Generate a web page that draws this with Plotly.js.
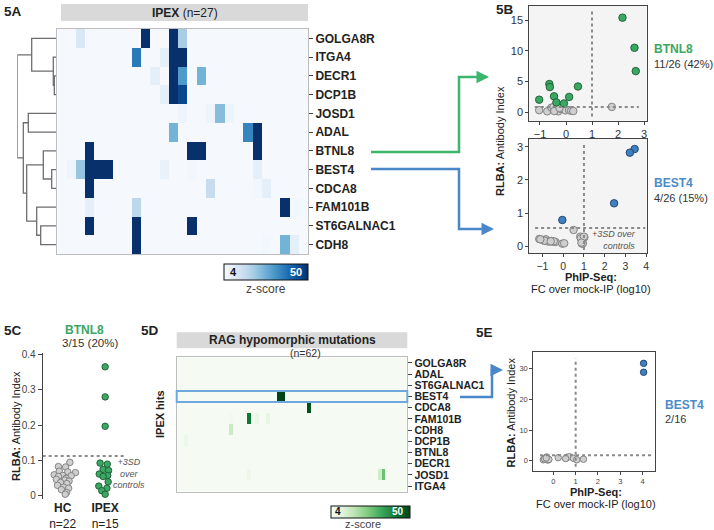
<!DOCTYPE html>
<html><head><meta charset="utf-8">
<script src="https://cdn.plot.ly/plotly-3.0.1.min.js"></script>
<style>html,body{margin:0;padding:0;background:#fff}#chart{width:714px;height:530px}</style>
</head><body><div id="chart"></div>
<script>
const W = 714, H = 530;
const px = x => x / W;
const py = y => 1 - y / H;

// ---------- 5A : IPEX heatmap ----------
const ipexGenes = ['GOLGA8R','ITGA4','DECR1','DCP1B','JOSD1','ADAL','BTNL8','BEST4','CDCA8','FAM101B','ST6GALNAC1','CDH8'];
const ipexSamples = 27;
// [gene row, sample column, z-score]
const ipexHits = [
  [0,2,11],[0,9,50],[0,12,50],[0,13,20],
  [1,8,37],[1,11,8],[1,12,50],[1,13,50],
  [2,10,8],[2,12,50],[2,13,31],[2,15,26],
  [3,11,8],[3,12,50],[3,13,46],
  [4,13,6],[4,16,6],[4,17,24],[4,18,6],
  [5,12,26],[5,20,35],[5,21,50],
  [6,3,50],[6,14,50],[6,15,50],[6,21,50],
  [7,1,6],[7,2,22],[7,3,50],[7,4,50],[7,5,50],[7,11,7],[7,14,5],[7,21,8],
  [8,3,50],[8,16,15],[8,21,5],[8,22,8],
  [9,3,8],[9,8,17],[9,24,50],[9,25,5],[9,26,4.5],
  [10,3,50],[10,8,50],[10,14,50],
  [11,8,50],[11,22,5],[11,24,26],[11,25,8]
];
// dendrogram merges: [child A, child B, merge height]; new nodes numbered from 12
const dendroMerges = [
  [2,3,1.7],[1,12,2.7],[0,13,24.3],[4,5,27.7],[7,8,4.3],[6,16,12.7],
  [10,11,15.3],[9,18,19.3],[17,19,29.3],[15,20,32.7],[14,21,38.7]
];

// ---------- 5B ----------
const btnl8PosX = [2.17,2.63,2.68,-0.64,-0.62,0.46,-0.46,0.12,-1.03,-0.37,-0.08];
const btnl8PosY = [15.4,10.5,6.7,4.6,4.1,4.2,2.6,2.5,2.05,1.6,1.45];
const btnl8NegX = [-1.03,-0.72,-0.56,-0.48,-0.38,-0.3,-0.2,-0.12,-0.02,0.12,0.2,0.28,-0.45,-0.25,1.76];
const btnl8NegY = [0.35,0.15,0.75,0.85,0.35,0.15,0.55,0.75,0.3,0.35,0.25,0.2,0.2,0.7,0.87];
const btnl8Cut = 0.85;
const best4PosX = [3.44,3.21,2.45,-0.04];
const best4PosY = [2.93,2.82,1.3,0.8];
const best4NegX = [0.5,-1.15,-0.88,-0.83,-0.56,-0.37,-0.04,0.82,1.02,0.9,-1.0,-0.7,-0.5,-0.45,0.85,0.95,1.0,-0.9,0.05,0.88,-0.6,-1.1];
const best4NegY = [0.5,0.23,0.17,0.22,0.17,0.14,0.09,0.3,0.28,0.09,0.2,0.15,0.15,0.16,0.25,0.1,0.3,0.18,0.1,0.12,0.16,0.22];
const best4Cut = 0.56;

// ---------- 5C ----------
const cGroups = ['<b>HC</b><br>n=22','<b>IPEX</b><br>n=15'];
const hcVals = [0.095,0.083,0.082,0.07,0.068,0.066,0.06,0.058,0.057,0.055,0.05,0.047,0.045,0.042,0.038,0.035,0.03,0.025,0.022,0.018,0.01,0.005];
const hcJitter = [0.17,-0.1,0.07,-0.08,0.12,0.3,-0.2,0.0,0.2,-0.1,0.08,-0.15,0.05,0.15,-0.05,0.1,-0.12,0.02,0.14,-0.03,0.09,0.06];
const ipexVals = [0.365,0.28,0.197,0.093,0.09,0.075,0.072,0.062,0.058,0.055,0.04,0.028,0.022,0.015,0.005];
const ipexJitter = [0,0,0,-0.12,0.05,-0.05,0.08,-0.14,0.06,-0.05,0.07,-0.15,0.04,-0.08,0.0];
const cCut = 0.113;

// ---------- 5D : RAG heatmap ----------
const ragGenes = ['GOLGA8R','ADAL','ST6GALNAC1','BEST4','CDCA8','FAM101B','CDH8','DCP1B','BTNL8','DECR1','JOSD1','ITGA4'];
const ragSamples = 62;
const ragHits = [
  [3,27,50],[3,28,50],[4,35,48],[5,14,5],[5,19,42],[5,21,8],[5,24,9],
  [6,14,15],[7,2,7],[10,19,7],[10,51,4.5],[10,54,14],[10,55,28]
];

// ---------- 5E ----------
const e5PosX = [4.05,4.05];
const e5PosY = [31.7,28.8];
const e5NegX = [-0.45,-0.38,-0.3,-0.25,-0.4,-0.2,0.22,0.6,0.72,0.9,1.05,1.35,-0.32,0.55];
const e5NegY = [0.3,0.8,1.2,0.2,0.6,0.4,1.0,1.1,1.3,0.8,0.3,0.5,0.9,0.7];
const e5Cut = 1.8;

// colours
const GREEN = '#3aa862', BLUE = '#3f80c2', GREY = '#cfcfcf';
const blues = [[0,'#f5f9fe'],[0.125,'#deebf7'],[0.25,'#c6dbef'],[0.375,'#9ecae1'],[0.5,'#6baed6'],[0.625,'#4292c6'],[0.75,'#2171b5'],[0.875,'#08519c'],[1,'#08306b']];
const greens = [[0,'#f5fbf3'],[0.125,'#e5f5e0'],[0.25,'#c7e9c0'],[0.375,'#a1d99b'],[0.5,'#74c476'],[0.625,'#41ab5d'],[0.75,'#238b45'],[0.875,'#006d2c'],[1,'#00441b']];

function matrix(rows, cols, hits) {
  const z = rows.map(() => new Array(cols).fill(0));
  hits.forEach(([r, c, v]) => { z[r][c] = v; });
  return z;
}
const idx = n => [...Array(n).keys()];

const traces = [];
traces.push({type:'heatmap', z: matrix(ipexGenes, ipexSamples, ipexHits), x: idx(ipexSamples), y: idx(ipexGenes.length),
  xaxis:'x', yaxis:'y', zmin:4, zmax:50, colorscale: blues, hoverinfo:'skip',
  colorbar:{orientation:'h', x:px(224), xanchor:'left', y:py(264), yanchor:'top', len:84, lenmode:'pixels',
    thickness:16, thicknessmode:'pixels', outlinewidth:1, outlinecolor:'#111', showticklabels:false, ticks:'', xpad:0, ypad:0, borderwidth:0}});

// dendrogram
const pos = ipexGenes.map((g, i) => i), hgt = ipexGenes.map(() => 0);
const dX = [], dY = [];
dendroMerges.forEach(([a, b, h]) => {
  dX.push(hgt[a], h, h, hgt[b], null);
  dY.push(pos[a], pos[a], pos[b], pos[b], null);
  pos.push((pos[a] + pos[b]) / 2); hgt.push(h);
});
traces.push({type:'scatter', mode:'lines', x:dX, y:dY, xaxis:'x2', yaxis:'y', line:{color:'#6e6e6e', width:1.3}, hoverinfo:'skip'});

const mk = (fill, edge, size) => ({color: fill, size: size, line:{color: edge, width: 0.9}});
traces.push({type:'scatter', mode:'markers', x:btnl8NegX, y:btnl8NegY, xaxis:'x3', yaxis:'y3', marker: mk(GREY,'#7a7a7a',7.5)});
traces.push({type:'scatter', mode:'markers', x:btnl8PosX, y:btnl8PosY, xaxis:'x3', yaxis:'y3', marker: mk(GREEN,'#1d5a33',7.5)});
traces.push({type:'scatter', mode:'markers', x:best4NegX, y:best4NegY, xaxis:'x4', yaxis:'y4', marker: mk(GREY,'#7a7a7a',7.5)});
traces.push({type:'scatter', mode:'markers', x:best4PosX, y:best4PosY, xaxis:'x4', yaxis:'y4', marker: mk(BLUE,'#1d3f66',7.5)});

traces.push({type:'scatter', mode:'markers', x:hcJitter.map(j => 0 + j), y:hcVals, xaxis:'x5', yaxis:'y5', marker: mk(GREY,'#7a7a7a',6.5)});
traces.push({type:'scatter', mode:'markers', x:ipexJitter.map(j => 1 + j), y:ipexVals, xaxis:'x5', yaxis:'y5', marker: mk(GREEN,'#1d5a33',6.5)});

traces.push({type:'heatmap', z: matrix(ragGenes, ragSamples, ragHits), x: idx(ragSamples), y: idx(ragGenes.length),
  xaxis:'x6', yaxis:'y6', zmin:4, zmax:50, colorscale: greens, hoverinfo:'skip',
  colorbar:{orientation:'h', x:px(330.7), xanchor:'left', y:py(505.7), yanchor:'top', len:78.6, lenmode:'pixels',
    thickness:11.6, thicknessmode:'pixels', outlinewidth:1, outlinecolor:'#111', showticklabels:false, ticks:'', xpad:0, ypad:0, borderwidth:0}});

traces.push({type:'scatter', mode:'markers', x:e5NegX, y:e5NegY, xaxis:'x7', yaxis:'y7', marker: mk(GREY,'#7a7a7a',6.5)});
traces.push({type:'scatter', mode:'markers', x:e5PosX, y:e5PosY, xaxis:'x7', yaxis:'y7', marker: mk(BLUE,'#1d3f66',6.5)});

const base = {showgrid:false, zeroline:false, fixedrange:true};
const frameAx = (extra) => Object.assign({}, base, {showline:true, mirror:true, linecolor:'#444', linewidth:1,
  ticks:'outside', ticklen:3, tickcolor:'#444', tickfont:{size:11, color:'#333'}}, extra);

const layout = {
  width: W, height: H, margin:{l:0,r:0,t:0,b:0}, paper_bgcolor:'#fff', plot_bgcolor:'#fff', showlegend:false,
  font:{family:'"Liberation Sans", Arial, sans-serif', color:'#222'},
  xaxis: Object.assign({}, base, {domain:[px(57.3), px(308)], range:[-0.5, 26.5], anchor:'y', showticklabels:false, ticks:'',
    showline:true, mirror:true, linecolor:'#bdbdbd'}),
  yaxis: Object.assign({}, base, {domain:[py(254), py(29)], range:[11.5, -0.5], anchor:'x', side:'right',
    tickvals: idx(ipexGenes.length), ticktext: ipexGenes, ticks:'outside', ticklen:4, tickcolor:'#444',
    tickfont:{size:12, color:'#222', weight:'bold'}, showline:true, mirror:true, linecolor:'#bdbdbd'}),
  xaxis2: Object.assign({}, base, {domain:[px(17.3), px(56)], range:[38.7, 0], anchor:'y', visible:false}),
  xaxis3: frameAx({domain:[px(529.3), px(646.7)], range:[-1.41, 3.1], anchor:'y3', tickvals:[-1,0,1,2,3]}),
  yaxis3: frameAx({domain:[py(120.7), py(6)], range:[-1.37, 17.3], anchor:'x3', tickvals:[0,5,10,15]}),
  xaxis4: frameAx({domain:[px(529.3), px(646.7)], range:[-1.63, 4.02], anchor:'y4', tickvals:[-1,0,1,2,3,4], tickfont:{size:10.5, color:'#333'}}),
  yaxis4: frameAx({domain:[py(253.3), py(139)], range:[-0.2, 3.23], anchor:'x4', tickvals:[0,1,2,3]}),
  xaxis5: Object.assign({}, base, {domain:[px(42.7), px(126)], range:[-0.47, 1.49], anchor:'y5', tickvals:[0,1], ticktext:cGroups,
    ticks:'', showline:false, tickfont:{size:12, color:'#222'}}),
  yaxis5: frameAx({domain:[py(499), py(353)], range:[-0.0085, 0.404], anchor:'x5', mirror:false, ticklen:4,
    tickvals:[0,0.1,0.2,0.3,0.4], ticktext:['0','0.1','0.2','0.3','0.4'], tickfont:{size:10, color:'#444'}}),
  xaxis6: Object.assign({}, base, {domain:[px(176.7), px(407.3)], range:[-0.5, 61.5], anchor:'y6', showticklabels:false, ticks:'',
    showline:true, mirror:true, linecolor:'#bdbdbd'}),
  yaxis6: Object.assign({}, base, {domain:[py(491.7), py(357.3)], range:[11.5, -0.5], anchor:'x6', side:'right',
    tickvals: idx(ragGenes.length), ticktext: ragGenes, ticks:'outside', ticklen:4, tickcolor:'#444',
    tickfont:{size:10.5, color:'#222', weight:'bold'}, showline:true, mirror:true, linecolor:'#bdbdbd'}),
  xaxis7: frameAx({domain:[px(533.3), px(655)], range:[-0.9, 4.56], anchor:'y7', tickvals:[0,1,2,3,4], tickfont:{size:7.5, color:'#444'}}),
  yaxis7: frameAx({domain:[py(471), py(352.3)], range:[-3.35, 35.3], anchor:'x7', tickvals:[0,10,20,30], tickfont:{size:7.5, color:'#444'}}),
  shapes: [], annotations: []
};

const S = layout.shapes, A = layout.annotations;
const dot = {color:'#8a8a8a', width:2, dash:'dot'};
// backgrounds of 5B panels
S.push({type:'rect', xref:'x3 domain', yref:'y3 domain', x0:0, x1:1, y0:0, y1:1, fillcolor:'#f4f4f4', line:{width:0}, layer:'below'});
S.push({type:'rect', xref:'x4 domain', yref:'y4 domain', x0:0, x1:1, y0:0, y1:1, fillcolor:'#f4f4f4', line:{width:0}, layer:'below'});
// header bars
S.push({type:'rect', xref:'paper', yref:'paper', x0:px(61), x1:px(308), y0:py(21), y1:py(4), fillcolor:'#d9d9d9', line:{width:0}});
S.push({type:'rect', xref:'paper', yref:'paper', x0:px(176.7), x1:px(407.3), y0:py(348.3), y1:py(332.3), fillcolor:'#d9d9d9', line:{width:0}});
// threshold lines
S.push({type:'line', xref:'x3', yref:'y3', x0:1, x1:1, y0:-0.7, y1:16.4, line:dot});
S.push({type:'line', xref:'x3', yref:'y3', x0:-1.2, x1:2.8, y0:btnl8Cut, y1:btnl8Cut, line:dot});
S.push({type:'line', xref:'x4', yref:'y4', x0:1, x1:1, y0:-0.1, y1:3.06, line:dot});
S.push({type:'line', xref:'x4', yref:'y4', x0:-1.35, x1:3.95, y0:best4Cut, y1:best4Cut, line:dot});
S.push({type:'line', xref:'x5', yref:'y5', x0:-0.47, x1:1.45, y0:cCut, y1:cCut, line:{color:'#666', width:1.5, dash:'dot'}});
S.push({type:'line', xref:'x7', yref:'y7', x0:1, x1:1, y0:-2, y1:33.3, line:dot});
S.push({type:'line', xref:'x7', yref:'y7', x0:-0.6, x1:4.4, y0:e5Cut, y1:e5Cut, line:dot});
// highlight BEST4 in 5D
S.push({type:'rect', xref:'x6 domain', yref:'y6', x0:0, x1:1, y0:2.5, y1:3.5, line:{color:'#6fa8dc', width:2}, fillcolor:'rgba(0,0,0,0)'});
// connector arrows
const path = pts => 'M' + pts.map(p => px(p[0]) + ',' + py(p[1])).join(' L');
const GA = '#3db56d', BA = '#4a87c8';
S.push({type:'path', xref:'paper', yref:'paper', path: path([[371,152],[459,152],[459,77],[482,77]]), line:{color:GA, width:2.5}});
S.push({type:'path', xref:'paper', yref:'paper', path: path([[371,169],[459,169],[459,229],[486,229]]), line:{color:BA, width:2.5}});
S.push({type:'path', xref:'paper', yref:'paper', path: path([[460,397],[492,397],[492,370],[496,370]]), line:{color:BA, width:2.5}});
const head = (x, y, c) => A.push({xref:'paper', yref:'paper', x:px(x), y:py(y), ax:-10, ay:0, text:'', showarrow:true,
  arrowhead:2, arrowsize:1, arrowwidth:2.5, arrowcolor:c, standoff:0});
head(489, 77, GA); head(494, 229, BA); head(503, 370, BA);

const txt = (x, y, text, o) => A.push(Object.assign({xref:'paper', yref:'paper', x:px(x), y:py(y), text, showarrow:false,
  xanchor:'center', yanchor:'middle', font:{size:11, color:'#222'}}, o || {}));
// panel letters
txt(2, 12, '<b>5A</b>', {xanchor:'left', font:{size:13.5, color:'#222'}});
txt(494, 10, '<b>5B</b>', {xanchor:'left', font:{size:13.5, color:'#222'}});
txt(2, 330, '<b>5C</b>', {xanchor:'left', font:{size:13.5, color:'#222'}});
txt(139, 330, '<b>5D</b>', {xanchor:'left', font:{size:13.5, color:'#222'}});
txt(474, 332, '<b>5E</b>', {xanchor:'left', font:{size:13.5, color:'#222'}});
// 5A
txt(184.5, 12.5, '<b>IPEX</b> (n=27)', {font:{size:12, color:'#222'}});
txt(228, 272, '<b>4</b>', {xanchor:'left', font:{size:11, color:'#111'}});
txt(304, 272, '<b>50</b>', {xanchor:'right', font:{size:11, color:'#fff'}});
txt(266, 289, 'z-score', {font:{size:12, color:'#444'}});
// 5B
txt(652, 49, '<b>BTNL8</b>', {xanchor:'left', font:{size:12, color:GREEN}});
txt(652, 64, '11/26 (42%)', {xanchor:'left', font:{size:11, color:'#333'}});
txt(652, 183, '<b>BEST4</b>', {xanchor:'left', font:{size:12, color:'#4a8bc8'}});
txt(652, 198, '4/26 (15%)', {xanchor:'left', font:{size:11, color:'#333'}});
txt(500, 141, '<b>RLBA:</b> Antibody Index', {textangle:-90, font:{size:11, color:'#222'}});
txt(590.5, 276.5, '<b>PhIP-Seq:</b>', {font:{size:11, color:'#222'}});
txt(590.5, 288.5, 'FC over mock-IP (log10)', {font:{size:11, color:'#222'}});
txt(638, 240, '+3SD over<br>controls', {xanchor:'right', align:'right', font:{size:9, color:'#555', style:'italic'}});
// 5C
txt(84, 330, '<b>BTNL8</b>', {font:{size:12, color:GREEN}});
txt(90, 343, '3/15 (20%)', {font:{size:11.5, color:'#333'}});
txt(16, 426, '<b>RLBA:</b> Antibody Index', {textangle:-90, font:{size:11, color:'#222'}});
txt(129, 473, '+3SD<br>over<br>controls', {font:{size:9, color:'#555', style:'italic'}});
// 5D
txt(160, 414, '<b>IPEX hits</b>', {textangle:-90, font:{size:11, color:'#222'}});
txt(292, 340.3, '<b>RAG hypomorphic mutations</b>', {font:{size:12, color:'#222'}});
txt(305, 352.5, '(n=62)', {font:{size:10.5, color:'#333'}});
txt(333, 511.5, '<b>4</b>', {xanchor:'left', font:{size:10, color:'#111'}});
txt(406, 511.5, '<b>50</b>', {xanchor:'right', font:{size:10, color:'#fff'}});
txt(363, 523.5, 'z-score', {font:{size:11, color:'#444'}});
// 5E
txt(510, 412.5, '<b>RLBA:</b> Antibody Index', {textangle:-90, font:{size:11, color:'#222'}});
txt(596, 491.7, '<b>PhIP-Seq:</b>', {font:{size:11, color:'#222'}});
txt(596, 504.3, 'FC over mock-IP (log10)', {font:{size:11, color:'#222'}});
txt(662.7, 405, '<b>BEST4</b>', {xanchor:'left', font:{size:12, color:'#4a8bc8'}});
txt(662.7, 419.3, '2/16', {xanchor:'left', font:{size:11, color:'#333'}});

Plotly.newPlot('chart', traces, layout, {displayModeBar:false, staticPlot:true});
</script></body></html>
